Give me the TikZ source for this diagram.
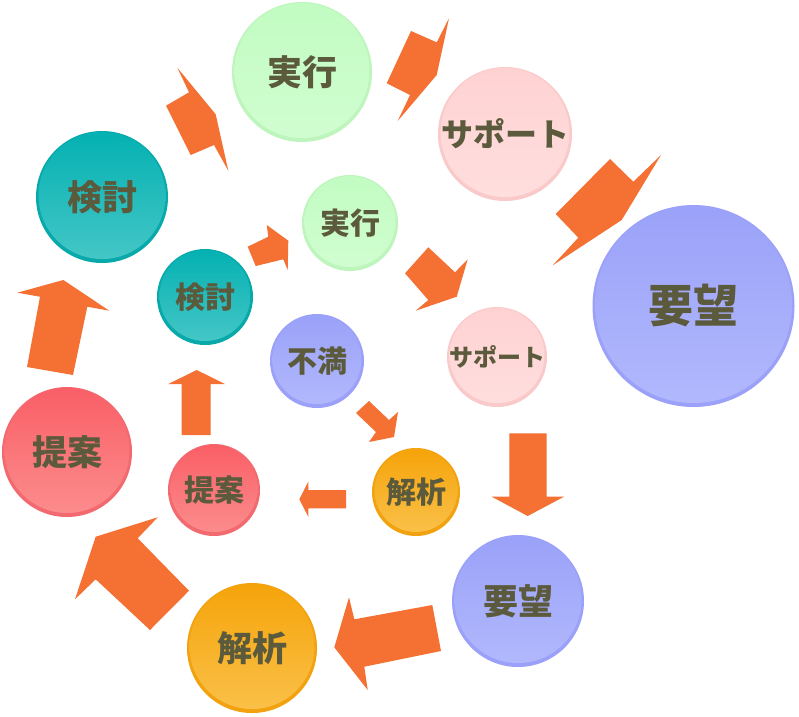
\documentclass[tikz,border=0pt]{standalone}
\usepackage{fontspec}
\newfontfamily\cjk{Noto Sans CJK JP}
\definecolor{txt}{HTML}{5C5A3C}
\definecolor{arrc}{HTML}{F47033}
% green
\definecolor{gE}{HTML}{BDF5BD}\definecolor{gT}{HTML}{C2FCC2}\definecolor{gB}{HTML}{D0FDD0}
% pink
\definecolor{pE}{HTML}{FACACA}\definecolor{pT}{HTML}{FFD2D2}\definecolor{pB}{HTML}{FFDEDE}
% blue
\definecolor{bE}{HTML}{9BA1F8}\definecolor{bT}{HTML}{9AA2F9}\definecolor{bB}{HTML}{B2B8FC}
% teal
\definecolor{tE}{HTML}{07A9AA}\definecolor{tT}{HTML}{04B1B2}\definecolor{tB}{HTML}{44C6C6}
% red
\definecolor{rE}{HTML}{F26970}\definecolor{rT}{HTML}{F95F66}\definecolor{rB}{HTML}{FC8C8C}
% orange
\definecolor{oE}{HTML}{F2A20E}\definecolor{oT}{HTML}{F5A40A}\definecolor{oB}{HTML}{FAC048}
\tikzset{arr/.style={fill=arrc}, lbl/.style={text=txt, inner sep=0pt}}
\newcommand\bub[9]{%
  \fill[#5!100] (#2,#3) circle (#4pt);
  \shade[top color=#6, bottom color=#7] (#2,#3-1.5) circle ({#4-2.5pt});
  \node[lbl, font=\cjk\bfseries\fontsize{#8}{#8}\selectfont] (#1) at (#2,#3) {#9};
}
\begin{document}
\begin{tikzpicture}[x=1pt,y=-1pt]
\useasboundingbox[fill=white] (0,0) rectangle (799,716);
% circles
\bub{execL}{302}{72}{70}{gE}{gT}{gB}{35}{実行}
\bub{supL}{505}{134}{67}{pE}{pT}{pB}{32}{サポート}
\bub{wantL}{693.5}{306}{101}{bE}{bT}{bB}{45}{要望}
\bub{revL}{102}{197}{66}{tE}{tT}{tB}{35}{検討}
\bub{execS}{350}{223}{48}{gE}{gT}{gB}{30}{実行}
\bub{revS}{205}{297}{48}{tE}{tT}{tB}{30}{検討}
\bub{dis}{317}{361}{47}{bE}{bT}{bB}{30}{不満}
\bub{supS}{497}{357}{50}{pE}{pT}{pB}{24}{サポート}
\bub{anaS}{416}{492}{44}{oE}{oT}{oB}{30}{解析}
\bub{propS}{214}{490}{46}{rE}{rT}{rB}{30}{提案}
\bub{propL}{67}{452}{65}{rE}{rT}{rB}{35}{提案}
\bub{anaL}{252}{648}{65}{oE}{oT}{oB}{35}{解析}
\bub{wantM}{518}{601}{66}{bE}{bT}{bB}{35}{要望}
% arrows
\fill[arr] (177.3,67.7) -- (215.7,114.3) -- (228.3,170.7) -- (214,145) -- (190.7,155) -- (166,105.7) -- (189,92.3) -- cycle;
\fill[arr] (449,18.3) -- (436.7,75) -- (397.7,121) -- (410,95) -- (386.7,83.3) -- (411,31) -- (436.7,42.3) -- cycle;
\fill[arr] (661,155) -- (633.3,181.7) -- (610,159) -- (555.7,214) -- (578.3,237.7) -- (552.7,265.3) -- (621.7,220) -- cycle;
\fill[arr] (266.7,225) -- (288.3,240.7) -- (287.7,270) -- (283.3,259.3) -- (255.7,266) -- (247.7,246.7) -- (268.3,236.7) -- cycle;
\fill[arr] (428.3,247.3) -- (455,272.3) -- (467.7,259.3) -- (456.7,296.7) -- (415.7,310.7) -- (428.3,300) -- (405,273.3) -- cycle;
\fill[arr] (509.3,433.3) -- (546.7,433.3) -- (546.7,496.7) -- (564,496.7) -- (527.7,516) -- (491.7,496.7) -- (509.3,496.7) -- cycle;
\fill[arr] (432.3,605) -- (441,651) -- (364.3,666.7) -- (367.7,690) -- (334.3,647.3) -- (349,597.3) -- (354.3,619.3) -- cycle;
\fill[arr] (157.7,517.3) -- (137.7,538.3) -- (189,590.7) -- (150,630) -- (95.7,579.3) -- (75,599.3) -- (95.7,536.7) -- cycle;
\fill[arr] (17.3,292.7) -- (63.3,280) -- (109.3,310.7) -- (87.3,306.7) -- (73,375) -- (27,367) -- (40,296.7) -- cycle;
\fill[arr] (168.3,384) -- (196.7,370) -- (225,384) -- (210.7,384) -- (210.7,435) -- (181.7,435) -- (181.7,384) -- cycle;
\fill[arr] (299.3,499.3) -- (308.3,481.7) -- (308.3,490) -- (346,490) -- (346,508.3) -- (308.3,508.3) -- (308.3,516.7) -- cycle;
\fill[arr] (369,401) -- (389,420) -- (398,412) -- (394,437) -- (369,442) -- (376,432) -- (356,413) -- cycle;
\end{tikzpicture}
\end{document}
